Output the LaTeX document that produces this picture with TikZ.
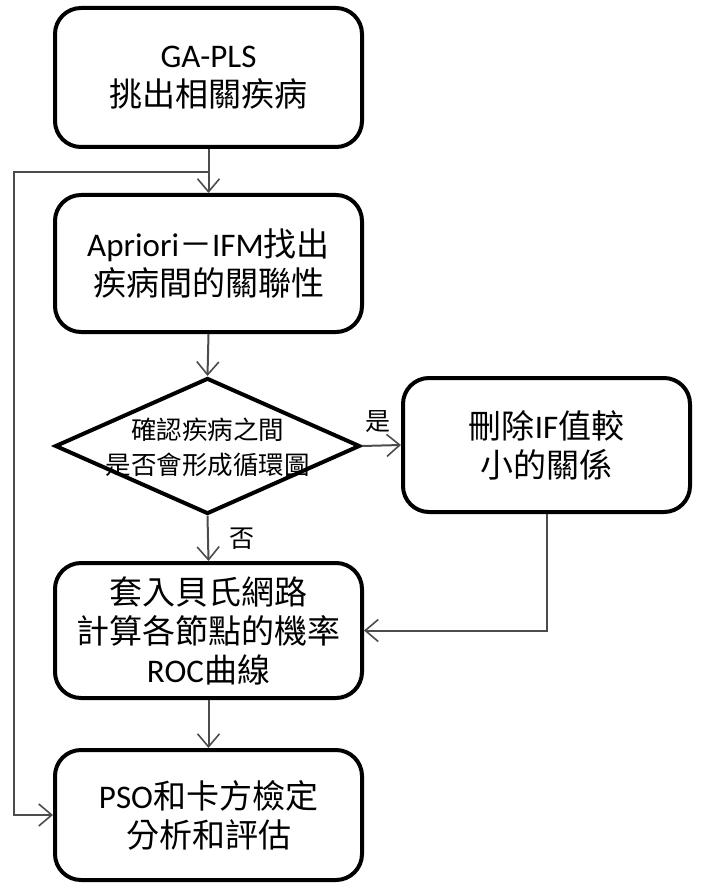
\documentclass[tikz,border=0pt]{standalone}
\usepackage{fontspec}
\setmainfont{Noto Sans CJK TC}
\newfontfamily\lat{Carlito}
\usetikzlibrary{shapes.geometric,arrows.meta}
\begin{document}
\begin{tikzpicture}[x=1pt,y=-1pt,
  box/.style={draw, line width=4pt, rounded corners=26pt, minimum width=307pt,
    inner sep=0pt, align=center, font=\fontsize{33}{39}\selectfont},
  link/.style={line width=2pt, draw=black!70},
  arr/.style={link, -{Straight Barb[length=13pt,width=22pt,line width=1.6pt]}},
  tag/.style={font=\fontsize{25}{30}\selectfont, inner sep=0pt}]
  \useasboundingbox (0,0) rectangle (702,885);

  % process boxes
  \node[box, minimum height=139pt] (b1) at (208.5,77.5) {{\lat GA-PLS}\\挑出相關疾病};
  \node[box, minimum height=137pt] (b2) at (208.5,263.5) {{\lat Apriori}－{\lat IFM}找出\\疾病間的關聯性};
  \node[draw, diamond, line width=4pt, minimum width=305pt, minimum height=136pt,
        inner sep=0pt] (d) at (207.5,446) {};
  \node[align=center, font=\fontsize{25.5}{35}\selectfont, inner sep=0pt] (dt) at (207.5,447)
        {確認疾病之間\\是否會形成循環圖};
  \node[box, minimum width=287pt, minimum height=134pt] (r) at (546.5,445) {刪除{\lat IF}值較\\小的關係};
  \node[box, minimum height=135pt] (b3) at (208.5,630.5) {套入貝氏網路\\計算各節點的機率\\{\lat ROC}曲線};
  \node[box, minimum height=130pt] (b4) at (208.5,815) {{\lat PSO}和卡方檢定\\分析和評估};

  % connectors
  \draw[arr] (b1.south) -- (b2.north);
  \coordinate (j) at (208.5,172);
  \draw[arr] (j) -- ++(-194.5,0) |- (b4.west);
  \draw[arr] (b2.south) -- (d.north);
  \draw[arr] (d.east) -- (r.west);
  \draw[arr] (d.south) -- (b3.north);
  \draw[arr] (r.south) |- (b3.east);
  \draw[arr] (b3.south) -- (b4.north);

  % branch labels
  \node[tag] (yes) at (378,422) {是};
  \node[tag] (no) at (242,539) {否};
\end{tikzpicture}
\end{document}
